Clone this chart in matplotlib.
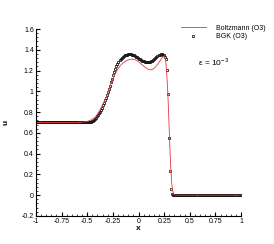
import numpy as np
import matplotlib
matplotlib.use('Agg')
import matplotlib.pyplot as plt
from matplotlib.ticker import MultipleLocator

plt.rcParams['font.family'] = ['Liberation Sans', 'DejaVu Sans']

# BGK (O3): cell-centred values on a 200 cell mesh over [-1, 1]
x_bgk = np.linspace(-0.995, 0.995, 200)
u_bgk_left = [0.70] * 51          # flat state, x = -0.995 .. -0.495
u_bgk_mid = [
    0.701, 0.703, 0.706, 0.711, 0.717, 0.725, 0.735, 0.747, 0.760, 0.774,
    0.789, 0.805, 0.823, 0.843, 0.865, 0.889, 0.914, 0.940, 0.967, 0.995,
    1.024, 1.055, 1.087, 1.120, 1.153, 1.185, 1.214, 1.240, 1.263, 1.283,
    1.300, 1.314, 1.325, 1.334, 1.341, 1.346, 1.350, 1.353, 1.355, 1.356,
    1.356, 1.355, 1.353, 1.350, 1.346, 1.341, 1.335, 1.328, 1.321,
    1.314, 1.307, 1.301, 1.296, 1.292, 1.289, 1.287, 1.285, 1.284, 1.284,
    1.285, 1.287, 1.291, 1.296, 1.303, 1.311, 1.320, 1.329, 1.338, 1.346,
    1.352, 1.356, 1.357, 1.354, 1.346, 1.333, 1.31, 1.21, 0.97, 0.55,
    0.23, 0.057, 0.009, 0.001,
]
u_bgk_right = [0.0] * 66          # flat state, x = 0.345 .. 0.995
u_bgk = np.array(u_bgk_left + u_bgk_mid + u_bgk_right)

# Boltzmann (O3)
x_boltz = [-1.0, -0.6, -0.55, -0.5, -0.46, -0.42, -0.38, -0.34, -0.30, -0.27,
           -0.24, -0.21, -0.18, -0.15, -0.12, -0.09, -0.06, -0.03, 0.0, 0.03,
           0.06, 0.09, 0.11, 0.13, 0.16, 0.19, 0.21, 0.23, 0.245, 0.255,
           0.265, 0.275, 0.285, 0.295, 0.305, 0.315, 0.325, 0.335, 0.345,
           0.36, 0.38, 1.0]
u_boltz = [0.700, 0.700, 0.703, 0.710, 0.725, 0.752, 0.812, 0.890, 0.980, 1.070,
           1.140, 1.200, 1.245, 1.275, 1.295, 1.307, 1.310, 1.303, 1.285, 1.260,
           1.235, 1.215, 1.207, 1.208, 1.228, 1.265, 1.295, 1.325, 1.338, 1.335,
           1.30, 1.17, 1.00, 0.75, 0.48, 0.25, 0.10, 0.035, 0.01,
           0.002, 0.0, 0.0]

xticks = [-1, -0.75, -0.5, -0.25, 0, 0.25, 0.5, 0.75, 1]
xlabels = ['-1', '-0.75', '-0.5', '-0.25', '0', '0.25', '0.5', '0.75', '1']
yticks = [-0.2, 0, 0.2, 0.4, 0.6, 0.8, 1.0, 1.2, 1.4, 1.6]
ylabels = ['-0.2', '0', '0.2', '0.4', '0.6', '0.8', '1', '1.2', '1.4', '1.6']

fig = plt.figure(figsize=(2.74, 2.44), dpi=100)
ax = fig.add_axes([0.131, 0.115, 0.749, 0.766])

ax.plot(x_bgk, u_bgk, linestyle='none', marker='s', markersize=1.9,
        markerfacecolor='none', markeredgecolor='#111111', markeredgewidth=0.55,
        label='BGK (O3)')
ax.plot(x_boltz, u_boltz, color='#e8363b', linewidth=0.6, label='Boltzmann (O3)')

ax.set_xlim(-1, 1)
ax.set_ylim(-0.2, 1.6)
ax.set_xticks(xticks)
ax.set_xticklabels(xlabels)
ax.set_yticks(yticks)
ax.set_yticklabels(ylabels)
ax.xaxis.set_minor_locator(MultipleLocator(0.05))
ax.yaxis.set_minor_locator(MultipleLocator(0.04))
ax.tick_params(which='major', direction='in', length=3, width=0.8, labelsize=5, pad=1.5)
ax.tick_params(which='minor', direction='in', length=1.5, width=0.5)

for s in ['top', 'right']:
    ax.spines[s].set_visible(False)
for s in ['left', 'bottom']:
    ax.spines[s].set_linewidth(0.8)

ax.set_xlabel('x', fontsize=6, fontweight='bold', labelpad=0)
ax.set_ylabel('u', fontsize=6, fontweight='bold')
ax.yaxis.set_label_coords(-0.127, 0.5)

handles, labels = ax.get_legend_handles_labels()
ax.legend(handles[::-1], labels[::-1], loc='upper left', bbox_to_anchor=(0.707, 1.022),
          frameon=False, fontsize=5, handlelength=3.6, labelspacing=0.2,
          handletextpad=1.4, borderpad=0, borderaxespad=0, markerscale=1.0)

ax.text(0.868, 0.823, 'ε = 10$^{\\mathregular{-3}}$', transform=ax.transAxes,
        fontsize=6, ha='center', va='center')

fig.savefig('out.png', dpi=100)
